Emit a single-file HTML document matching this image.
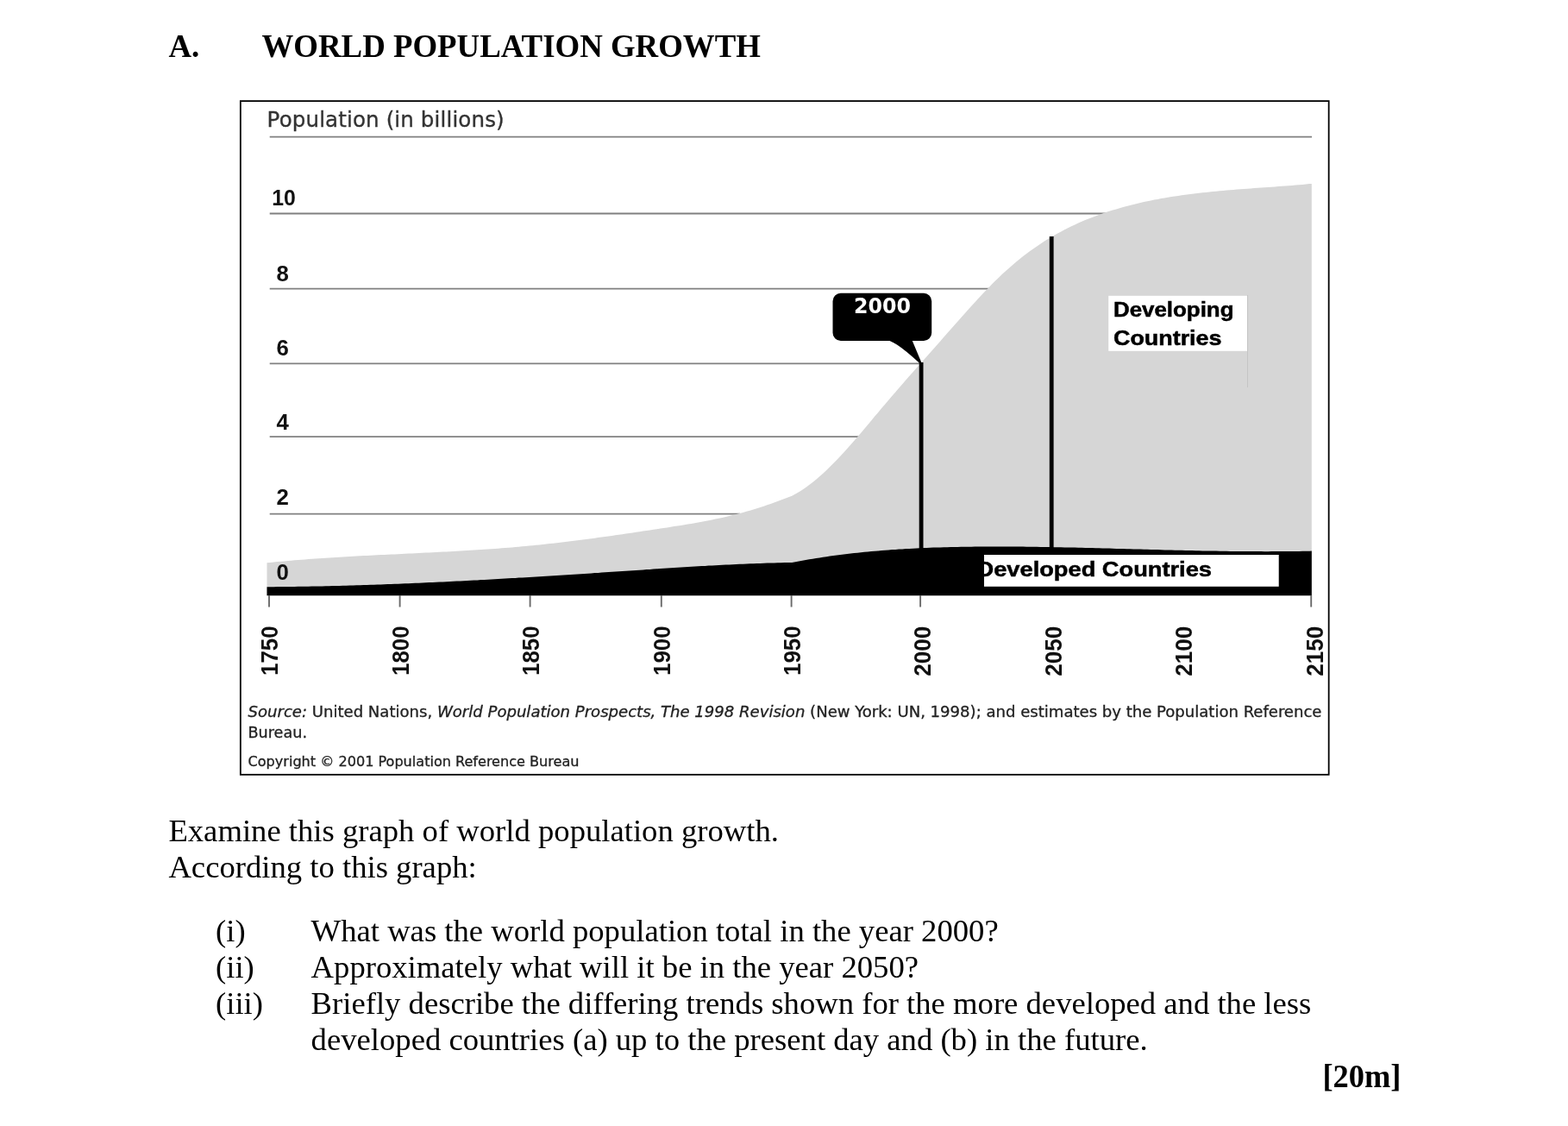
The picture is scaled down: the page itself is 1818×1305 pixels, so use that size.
<!DOCTYPE html>
<html lang="en">
<head>
<meta charset="utf-8">
<title>World Population Growth</title>
<style>
html,body{margin:0;padding:0;background:#fff;}
body{width:1818px;height:1305px;position:relative;overflow:hidden;font-family:"Liberation Serif",serif;color:#000;}
.t{position:absolute;white-space:nowrap;font-size:36.67px;line-height:42px;}
.h{font-size:36.85px;}
.b{font-weight:bold;transform:scaleY(1.035);transform-origin:0 33.5px;}
svg{position:absolute;left:0;top:0;}
svg text{font-family:"Liberation Sans",sans-serif;}
svg text.dj{font-family:"DejaVu Sans","Liberation Sans",sans-serif;}
svg text.djc{font-family:"DejaVu Sans Condensed","DejaVu Sans","Liberation Sans",sans-serif;}
</style>
</head>
<body>
<div class="t b h" style="left:195.4px;top:33.3px;">A.</div>
<div class="t b h" style="left:303.5px;top:33.3px;">WORLD POPULATION GROWTH</div>

<svg width="1818" height="1305" viewBox="0 0 1818 1305">
  <defs>
    <clipPath id="devclip"><rect x="1141" y="643" width="341.7" height="36.8"/></clipPath>
  </defs>
  <!-- frame -->
  <rect x="278.85" y="117.1" width="1261.8" height="780.7" fill="#fff" stroke="#000" stroke-width="1.8"/>
  <!-- grid lines -->
  <g stroke="#808080" stroke-width="1.8" fill="none">
    <line x1="312.7" y1="158.7" x2="1521" y2="158.7"/>
    <line x1="312.7" y1="247.5" x2="1290" y2="247.5"/>
    <line x1="312.7" y1="334.6" x2="1150" y2="334.6"/>
    <line x1="312.7" y1="421.4" x2="1072" y2="421.4"/>
    <line x1="312.7" y1="506.1" x2="1000" y2="506.1"/>
    <line x1="312.7" y1="595.6" x2="858" y2="595.6"/>
  </g>
  <!-- areas -->
  <path fill="#d6d6d6" d="M309.5 690.3 L309.5 652.3 L313.5 651.9 L317.5 651.5 L321.5 651.1 L325.5 650.7 L329.5 650.4 L333.5 650.0 L337.5 649.7 L341.5 649.3 L345.5 649.0 L349.5 648.7 L353.5 648.4 L357.5 648.1 L361.5 647.8 L365.5 647.5 L369.5 647.2 L373.5 646.9 L377.5 646.7 L381.5 646.4 L385.5 646.2 L389.5 645.9 L393.5 645.7 L397.5 645.4 L401.5 645.2 L405.5 645.0 L409.5 644.8 L413.5 644.5 L417.5 644.3 L421.5 644.1 L425.5 643.9 L429.5 643.7 L433.5 643.5 L437.5 643.3 L441.5 643.1 L445.5 642.9 L449.5 642.7 L453.5 642.5 L457.5 642.4 L461.5 642.2 L465.5 642.0 L469.5 641.8 L473.5 641.6 L477.5 641.4 L481.5 641.2 L485.5 641.0 L489.5 640.8 L493.5 640.6 L497.5 640.4 L501.5 640.2 L505.5 640.0 L509.5 639.8 L513.5 639.6 L517.5 639.4 L521.5 639.2 L525.5 639.0 L529.5 638.8 L533.5 638.5 L537.5 638.3 L541.5 638.1 L545.5 637.8 L549.5 637.6 L553.5 637.3 L557.5 637.1 L561.5 636.8 L565.5 636.5 L569.5 636.2 L573.5 635.9 L577.5 635.7 L581.5 635.3 L585.5 635.0 L589.5 634.7 L593.5 634.4 L597.5 634.0 L601.5 633.7 L605.5 633.3 L609.5 633.0 L613.5 632.6 L617.5 632.2 L621.5 631.8 L625.5 631.4 L629.5 631.0 L633.5 630.5 L637.5 630.1 L641.5 629.7 L645.5 629.2 L649.5 628.7 L653.5 628.3 L657.5 627.8 L661.5 627.3 L665.5 626.8 L669.5 626.3 L673.5 625.8 L677.5 625.3 L681.5 624.7 L685.5 624.2 L689.5 623.7 L693.5 623.1 L697.5 622.6 L701.5 622.0 L705.5 621.4 L709.5 620.9 L713.5 620.3 L717.5 619.7 L721.5 619.2 L725.5 618.6 L729.5 618.0 L733.5 617.4 L737.5 616.8 L741.5 616.2 L745.5 615.6 L749.5 615.0 L753.5 614.4 L757.5 613.8 L761.5 613.2 L765.5 612.6 L769.5 612.0 L773.5 611.4 L777.5 610.7 L781.5 610.1 L785.5 609.5 L789.5 608.9 L793.5 608.2 L797.5 607.5 L801.5 606.9 L805.5 606.2 L809.5 605.5 L813.5 604.7 L817.5 604.0 L821.5 603.2 L825.5 602.4 L829.5 601.6 L833.5 600.8 L837.5 599.9 L841.5 599.0 L845.5 598.0 L849.5 597.1 L853.5 596.1 L857.5 595.0 L861.5 593.9 L865.5 592.8 L869.5 591.7 L873.5 590.5 L877.5 589.2 L881.5 588.0 L885.5 586.7 L889.5 585.3 L893.5 583.9 L897.5 582.5 L901.5 581.1 L905.5 579.6 L909.5 578.1 L913.5 576.6 L917.5 575.0 L918.2 574.7 L922.2 572.6 L926.2 570.2 L930.2 567.7 L934.2 565.0 L938.2 562.1 L942.2 559.0 L946.2 555.7 L950.2 552.3 L954.2 548.7 L958.2 545.0 L962.2 541.1 L966.2 537.1 L970.2 533.0 L974.2 528.8 L978.2 524.5 L982.2 520.1 L986.2 515.6 L990.2 511.0 L994.2 506.3 L998.2 501.7 L1002.2 496.9 L1006.2 492.2 L1010.2 487.4 L1014.2 482.6 L1018.2 477.9 L1022.2 473.1 L1026.2 468.4 L1030.2 463.7 L1034.2 459.0 L1038.2 454.4 L1042.2 449.8 L1046.2 445.2 L1050.2 440.6 L1054.2 436.0 L1058.2 431.5 L1062.2 426.9 L1066.2 422.4 L1070.2 417.9 L1074.2 413.4 L1078.2 408.9 L1082.2 404.4 L1086.2 399.9 L1090.2 395.4 L1094.2 390.8 L1098.2 386.3 L1102.2 381.8 L1106.2 377.2 L1110.2 372.7 L1114.2 368.2 L1118.2 363.7 L1122.2 359.2 L1126.2 354.8 L1130.2 350.4 L1134.2 346.1 L1138.2 341.8 L1142.2 337.6 L1146.2 333.4 L1150.2 329.3 L1154.2 325.3 L1158.2 321.4 L1162.2 317.6 L1166.2 313.9 L1170.2 310.4 L1174.2 306.9 L1178.2 303.5 L1182.2 300.2 L1186.2 297.1 L1190.2 294.0 L1194.2 291.0 L1198.2 288.2 L1202.2 285.4 L1206.2 282.7 L1210.2 280.1 L1214.2 277.6 L1218.2 275.2 L1222.2 272.8 L1226.2 270.5 L1230.2 268.4 L1234.2 266.3 L1238.2 264.2 L1242.2 262.3 L1246.2 260.4 L1250.2 258.5 L1254.2 256.8 L1258.2 255.1 L1262.2 253.5 L1266.2 251.9 L1270.2 250.4 L1274.2 248.9 L1278.2 247.5 L1282.2 246.1 L1286.2 244.8 L1290.2 243.6 L1294.2 242.4 L1298.2 241.2 L1302.2 240.1 L1306.2 239.0 L1310.2 238.0 L1314.2 236.9 L1318.2 236.0 L1322.2 235.0 L1326.2 234.1 L1330.2 233.3 L1334.2 232.4 L1338.2 231.6 L1342.2 230.9 L1346.2 230.1 L1350.2 229.4 L1354.2 228.8 L1358.2 228.1 L1362.2 227.5 L1366.2 226.9 L1370.2 226.3 L1374.2 225.7 L1378.2 225.2 L1382.2 224.7 L1386.2 224.2 L1390.2 223.7 L1394.2 223.3 L1398.2 222.9 L1402.2 222.4 L1406.2 222.0 L1410.2 221.7 L1414.2 221.3 L1418.2 220.9 L1422.2 220.6 L1426.2 220.2 L1430.2 219.9 L1434.2 219.6 L1438.2 219.3 L1442.2 219.0 L1446.2 218.7 L1450.2 218.4 L1454.2 218.1 L1458.2 217.8 L1462.2 217.5 L1466.2 217.2 L1470.2 216.9 L1474.2 216.7 L1478.2 216.4 L1482.2 216.1 L1486.2 215.8 L1490.2 215.5 L1494.2 215.2 L1498.2 214.9 L1502.2 214.5 L1506.2 214.2 L1510.2 213.9 L1514.2 213.5 L1518.2 213.1 L1520.8 212.9 L1520.8 690.3 Z"/>
  <path fill="#000" d="M309.5 690.3 L309.5 680.2 L313.5 680.2 L317.5 680.2 L321.5 680.1 L325.5 680.1 L329.5 680.0 L333.5 680.0 L337.5 680.0 L341.5 679.9 L345.5 679.8 L349.5 679.8 L353.5 679.7 L357.5 679.7 L361.5 679.6 L365.5 679.5 L369.5 679.4 L373.5 679.4 L377.5 679.3 L381.5 679.2 L385.5 679.1 L389.5 679.0 L393.5 678.9 L397.5 678.8 L401.5 678.7 L405.5 678.6 L409.5 678.4 L413.5 678.3 L417.5 678.2 L421.5 678.1 L425.5 678.0 L429.5 677.8 L433.5 677.7 L437.5 677.5 L441.5 677.4 L445.5 677.3 L449.5 677.1 L453.5 677.0 L457.5 676.8 L461.5 676.7 L465.5 676.5 L469.5 676.3 L473.5 676.2 L477.5 676.0 L481.5 675.8 L485.5 675.7 L489.5 675.5 L493.5 675.3 L497.5 675.1 L501.5 674.9 L505.5 674.8 L509.5 674.6 L513.5 674.4 L517.5 674.2 L521.5 674.0 L525.5 673.8 L529.5 673.6 L533.5 673.4 L537.5 673.2 L541.5 673.0 L545.5 672.8 L549.5 672.6 L553.5 672.4 L557.5 672.1 L561.5 671.9 L565.5 671.7 L569.5 671.5 L573.5 671.3 L577.5 671.0 L581.5 670.8 L585.5 670.6 L589.5 670.3 L593.5 670.1 L597.5 669.9 L601.5 669.6 L605.5 669.4 L609.5 669.2 L613.5 668.9 L617.5 668.7 L621.5 668.4 L625.5 668.2 L629.5 668.0 L633.5 667.7 L637.5 667.5 L641.5 667.2 L645.5 667.0 L649.5 666.7 L653.5 666.5 L657.5 666.2 L661.5 665.9 L665.5 665.7 L669.5 665.4 L673.5 665.2 L677.5 664.9 L681.5 664.7 L685.5 664.4 L689.5 664.1 L693.5 663.9 L697.5 663.6 L701.5 663.3 L705.5 663.1 L709.5 662.8 L713.5 662.5 L717.5 662.3 L721.5 662.0 L725.5 661.7 L729.5 661.5 L733.5 661.2 L737.5 660.9 L741.5 660.7 L745.5 660.4 L749.5 660.1 L753.5 659.9 L757.5 659.6 L761.5 659.3 L765.5 659.1 L769.5 658.8 L773.5 658.6 L777.5 658.3 L781.5 658.0 L785.5 657.8 L789.5 657.5 L793.5 657.3 L797.5 657.0 L801.5 656.8 L805.5 656.6 L809.5 656.3 L813.5 656.1 L817.5 655.9 L821.5 655.6 L825.5 655.4 L829.5 655.2 L833.5 655.0 L837.5 654.8 L841.5 654.6 L845.5 654.4 L849.5 654.2 L853.5 654.0 L857.5 653.8 L861.5 653.7 L865.5 653.5 L869.5 653.3 L873.5 653.2 L877.5 653.0 L881.5 652.9 L885.5 652.8 L889.5 652.6 L893.5 652.5 L897.5 652.4 L901.5 652.3 L905.5 652.2 L909.5 652.1 L913.5 652.1 L917.5 652.0 L918.2 652.0 L922.2 651.2 L926.2 650.5 L930.2 649.7 L934.2 649.0 L938.2 648.3 L942.2 647.7 L946.2 647.0 L950.2 646.4 L954.2 645.8 L958.2 645.2 L962.2 644.6 L966.2 644.1 L970.2 643.5 L974.2 643.0 L978.2 642.5 L982.2 642.0 L986.2 641.5 L990.2 641.1 L994.2 640.7 L998.2 640.2 L1002.2 639.8 L1006.2 639.4 L1010.2 639.1 L1014.2 638.7 L1018.2 638.4 L1022.2 638.0 L1026.2 637.7 L1030.2 637.4 L1034.2 637.1 L1038.2 636.9 L1042.2 636.6 L1046.2 636.4 L1050.2 636.1 L1054.2 635.9 L1058.2 635.7 L1062.2 635.5 L1066.2 635.3 L1070.2 635.1 L1074.2 634.9 L1078.2 634.8 L1082.2 634.6 L1086.2 634.5 L1090.2 634.4 L1094.2 634.3 L1098.2 634.2 L1102.2 634.1 L1106.2 634.0 L1110.2 633.9 L1114.2 633.8 L1118.2 633.8 L1122.2 633.7 L1126.2 633.7 L1130.2 633.6 L1134.2 633.6 L1138.2 633.5 L1142.2 633.5 L1146.2 633.5 L1150.2 633.5 L1154.2 633.5 L1158.2 633.5 L1162.2 633.5 L1166.2 633.5 L1170.2 633.5 L1174.2 633.6 L1178.2 633.6 L1182.2 633.6 L1186.2 633.6 L1190.2 633.7 L1194.2 633.7 L1198.2 633.8 L1202.2 633.8 L1206.2 633.9 L1210.2 634.0 L1214.2 634.0 L1218.2 634.1 L1222.2 634.2 L1226.2 634.2 L1230.2 634.3 L1234.2 634.4 L1238.2 634.5 L1242.2 634.6 L1246.2 634.6 L1250.2 634.7 L1254.2 634.8 L1258.2 634.9 L1262.2 635.0 L1266.2 635.1 L1270.2 635.2 L1274.2 635.3 L1278.2 635.4 L1282.2 635.5 L1286.2 635.6 L1290.2 635.7 L1294.2 635.9 L1298.2 636.0 L1302.2 636.1 L1306.2 636.2 L1310.2 636.3 L1314.2 636.4 L1318.2 636.5 L1322.2 636.6 L1326.2 636.7 L1330.2 636.8 L1334.2 636.9 L1338.2 637.0 L1342.2 637.1 L1346.2 637.3 L1350.2 637.4 L1354.2 637.5 L1358.2 637.6 L1362.2 637.7 L1366.2 637.7 L1370.2 637.8 L1374.2 637.9 L1378.2 638.0 L1382.2 638.1 L1386.2 638.2 L1390.2 638.3 L1394.2 638.4 L1398.2 638.4 L1402.2 638.5 L1406.2 638.6 L1410.2 638.6 L1414.2 638.7 L1418.2 638.8 L1422.2 638.8 L1426.2 638.9 L1430.2 638.9 L1434.2 639.0 L1438.2 639.0 L1442.2 639.0 L1446.2 639.1 L1450.2 639.1 L1454.2 639.1 L1458.2 639.1 L1462.2 639.1 L1466.2 639.2 L1470.2 639.2 L1474.2 639.1 L1478.2 639.1 L1482.2 639.1 L1486.2 639.1 L1490.2 639.1 L1494.2 639.0 L1498.2 639.0 L1502.2 638.9 L1506.2 638.9 L1510.2 638.8 L1514.2 638.7 L1518.2 638.7 L1520.8 638.6 L1520.8 690.3 Z"/>
  <!-- vertical markers -->
  <rect x="1065.7" y="420" width="4.8" height="216" fill="#000"/>
  <rect x="1216.8" y="274" width="4.8" height="362" fill="#000"/>
  <!-- 2000 callout -->
  <path fill="#000" d="M974.7 339.7 H1071 a9.2 9.2 0 0 1 9.2 9.2 V385.8 a9.2 9.2 0 0 1 -9.2 9.2 H1057.8 L1068.6 420.8 H1066 Q1050 406 1040 399.5 Q1035.5 396.5 1031.5 395 H974.7 a9.2 9.2 0 0 1 -9.2 -9.2 V348.9 a9.2 9.2 0 0 1 9.2 -9.2 Z"/>
  <text class="dj" x="990" y="363.2" font-weight="bold" font-size="24.2" fill="#fff" textLength="66" lengthAdjust="spacingAndGlyphs">2000</text>
  <!-- Developing countries label -->
  <rect x="1285.2" y="342.8" width="161" height="64" fill="#fff"/>
  <line x1="1446.5" y1="342" x2="1446.5" y2="449" stroke="#c4c4c4" stroke-width="1"/>
  <text x="1291" y="367.3" font-weight="bold" font-size="23.8" stroke="#000" stroke-width="0.5" textLength="139.5" lengthAdjust="spacingAndGlyphs">Developing</text>
  <text x="1291" y="399.5" font-weight="bold" font-size="23.8" stroke="#000" stroke-width="0.5" textLength="125.5" lengthAdjust="spacingAndGlyphs">Countries</text>
  <!-- Developed countries label -->
  <rect x="1141" y="643" width="341.7" height="36.8" fill="#fff"/>
  <g clip-path="url(#devclip)"><text x="1132.5" y="667.5" font-weight="bold" font-size="24.6" stroke="#000" stroke-width="0.5" textLength="272.5" lengthAdjust="spacingAndGlyphs">Developed Countries</text></g>
  <!-- y axis labels -->
  <text x="309.6" y="146.8" font-size="24.5" fill="#333" stroke="#333" stroke-width="0.35" textLength="275" class="dj">Population (in billions)</text>
  <g font-weight="bold" font-size="25.8" fill="#111">
    <text x="315.2" y="238.3" textLength="27.6" lengthAdjust="spacingAndGlyphs">10</text>
    <text x="320.4" y="325.5">8</text>
    <text x="320.4" y="411.9">6</text>
    <text x="320.4" y="497.9">4</text>
    <text x="320.4" y="585.2">2</text>
    <text x="320.4" y="672">0</text>
  </g>
  <!-- x axis ticks + labels -->
  <g stroke="#6a6a6a" stroke-width="1.9"><line x1="312.0" y1="690" x2="312.0" y2="703.5"/><line x1="463.6" y1="690" x2="463.6" y2="703.5"/><line x1="614.6" y1="690" x2="614.6" y2="703.5"/><line x1="766.8" y1="690" x2="766.8" y2="703.5"/><line x1="917.6" y1="690" x2="917.6" y2="703.5"/><line x1="1067.1" y1="690" x2="1067.1" y2="703.5"/><line x1="1520.2" y1="690" x2="1520.2" y2="703.5"/></g>
  <g font-weight="bold" font-size="28" fill="#111"><text transform="translate(322.4 783.0) rotate(-90)" textLength="57.6" lengthAdjust="spacingAndGlyphs">1750</text><text transform="translate(473.8 783.0) rotate(-90)" textLength="57.6" lengthAdjust="spacingAndGlyphs">1800</text><text transform="translate(625.2 783.0) rotate(-90)" textLength="57.6" lengthAdjust="spacingAndGlyphs">1850</text><text transform="translate(776.6 783.0) rotate(-90)" textLength="57.6" lengthAdjust="spacingAndGlyphs">1900</text><text transform="translate(928.0 783.0) rotate(-90)" textLength="57.6" lengthAdjust="spacingAndGlyphs">1950</text><text transform="translate(1079.4 783.8) rotate(-90)" textLength="58.2" lengthAdjust="spacingAndGlyphs">2000</text><text transform="translate(1230.8 783.8) rotate(-90)" textLength="58.2" lengthAdjust="spacingAndGlyphs">2050</text><text transform="translate(1382.2 783.8) rotate(-90)" textLength="58.2" lengthAdjust="spacingAndGlyphs">2100</text><text transform="translate(1533.6 783.8) rotate(-90)" textLength="58.2" lengthAdjust="spacingAndGlyphs">2150</text></g>
  <!-- source -->
  <g font-size="18.4" fill="#222" stroke="#222" stroke-width="0.3">
    <text class="djc" x="287.5" y="830.6" textLength="1245" lengthAdjust="spacingAndGlyphs"><tspan font-style="italic">Source:</tspan> United Nations, <tspan font-style="italic">World Population Prospects, The 1998 Revision</tspan> (New York: UN, 1998); and estimates by the Population Reference</text>
    <text class="djc" x="287.5" y="854.8" textLength="68.5" lengthAdjust="spacingAndGlyphs">Bureau.</text>
  </g>
  <text class="djc" x="287.5" y="888.4" font-size="16.4" fill="#222" stroke="#222" stroke-width="0.3" textLength="384" lengthAdjust="spacingAndGlyphs">Copyright © 2001 Population Reference Bureau</text>
</svg>

<div class="t" style="left:195.4px;top:941.6px;">Examine this graph of world population growth.</div>
<div class="t" style="left:195.4px;top:983.6px;">According to this graph:</div>
<div class="t" style="left:250px;top:1057.6px;">(i)</div>
<div class="t" style="left:360.6px;top:1057.6px;">What was the world population total in the year 2000?</div>
<div class="t" style="left:250px;top:1099.6px;">(ii)</div>
<div class="t" style="left:360.6px;top:1099.6px;">Approximately what will it be in the year 2050?</div>
<div class="t" style="left:250px;top:1141.6px;">(iii)</div>
<div class="t" style="left:360.6px;top:1141.6px;">Briefly describe the differing trends shown for the more developed and the less</div>
<div class="t" style="left:360.6px;top:1183.7px;">developed countries (a) up to the present day and (b) in the future.</div>
<div class="t b" style="left:1533.4px;top:1226.8px;font-size:36.4px;">[20m]</div>
</body>
</html>
